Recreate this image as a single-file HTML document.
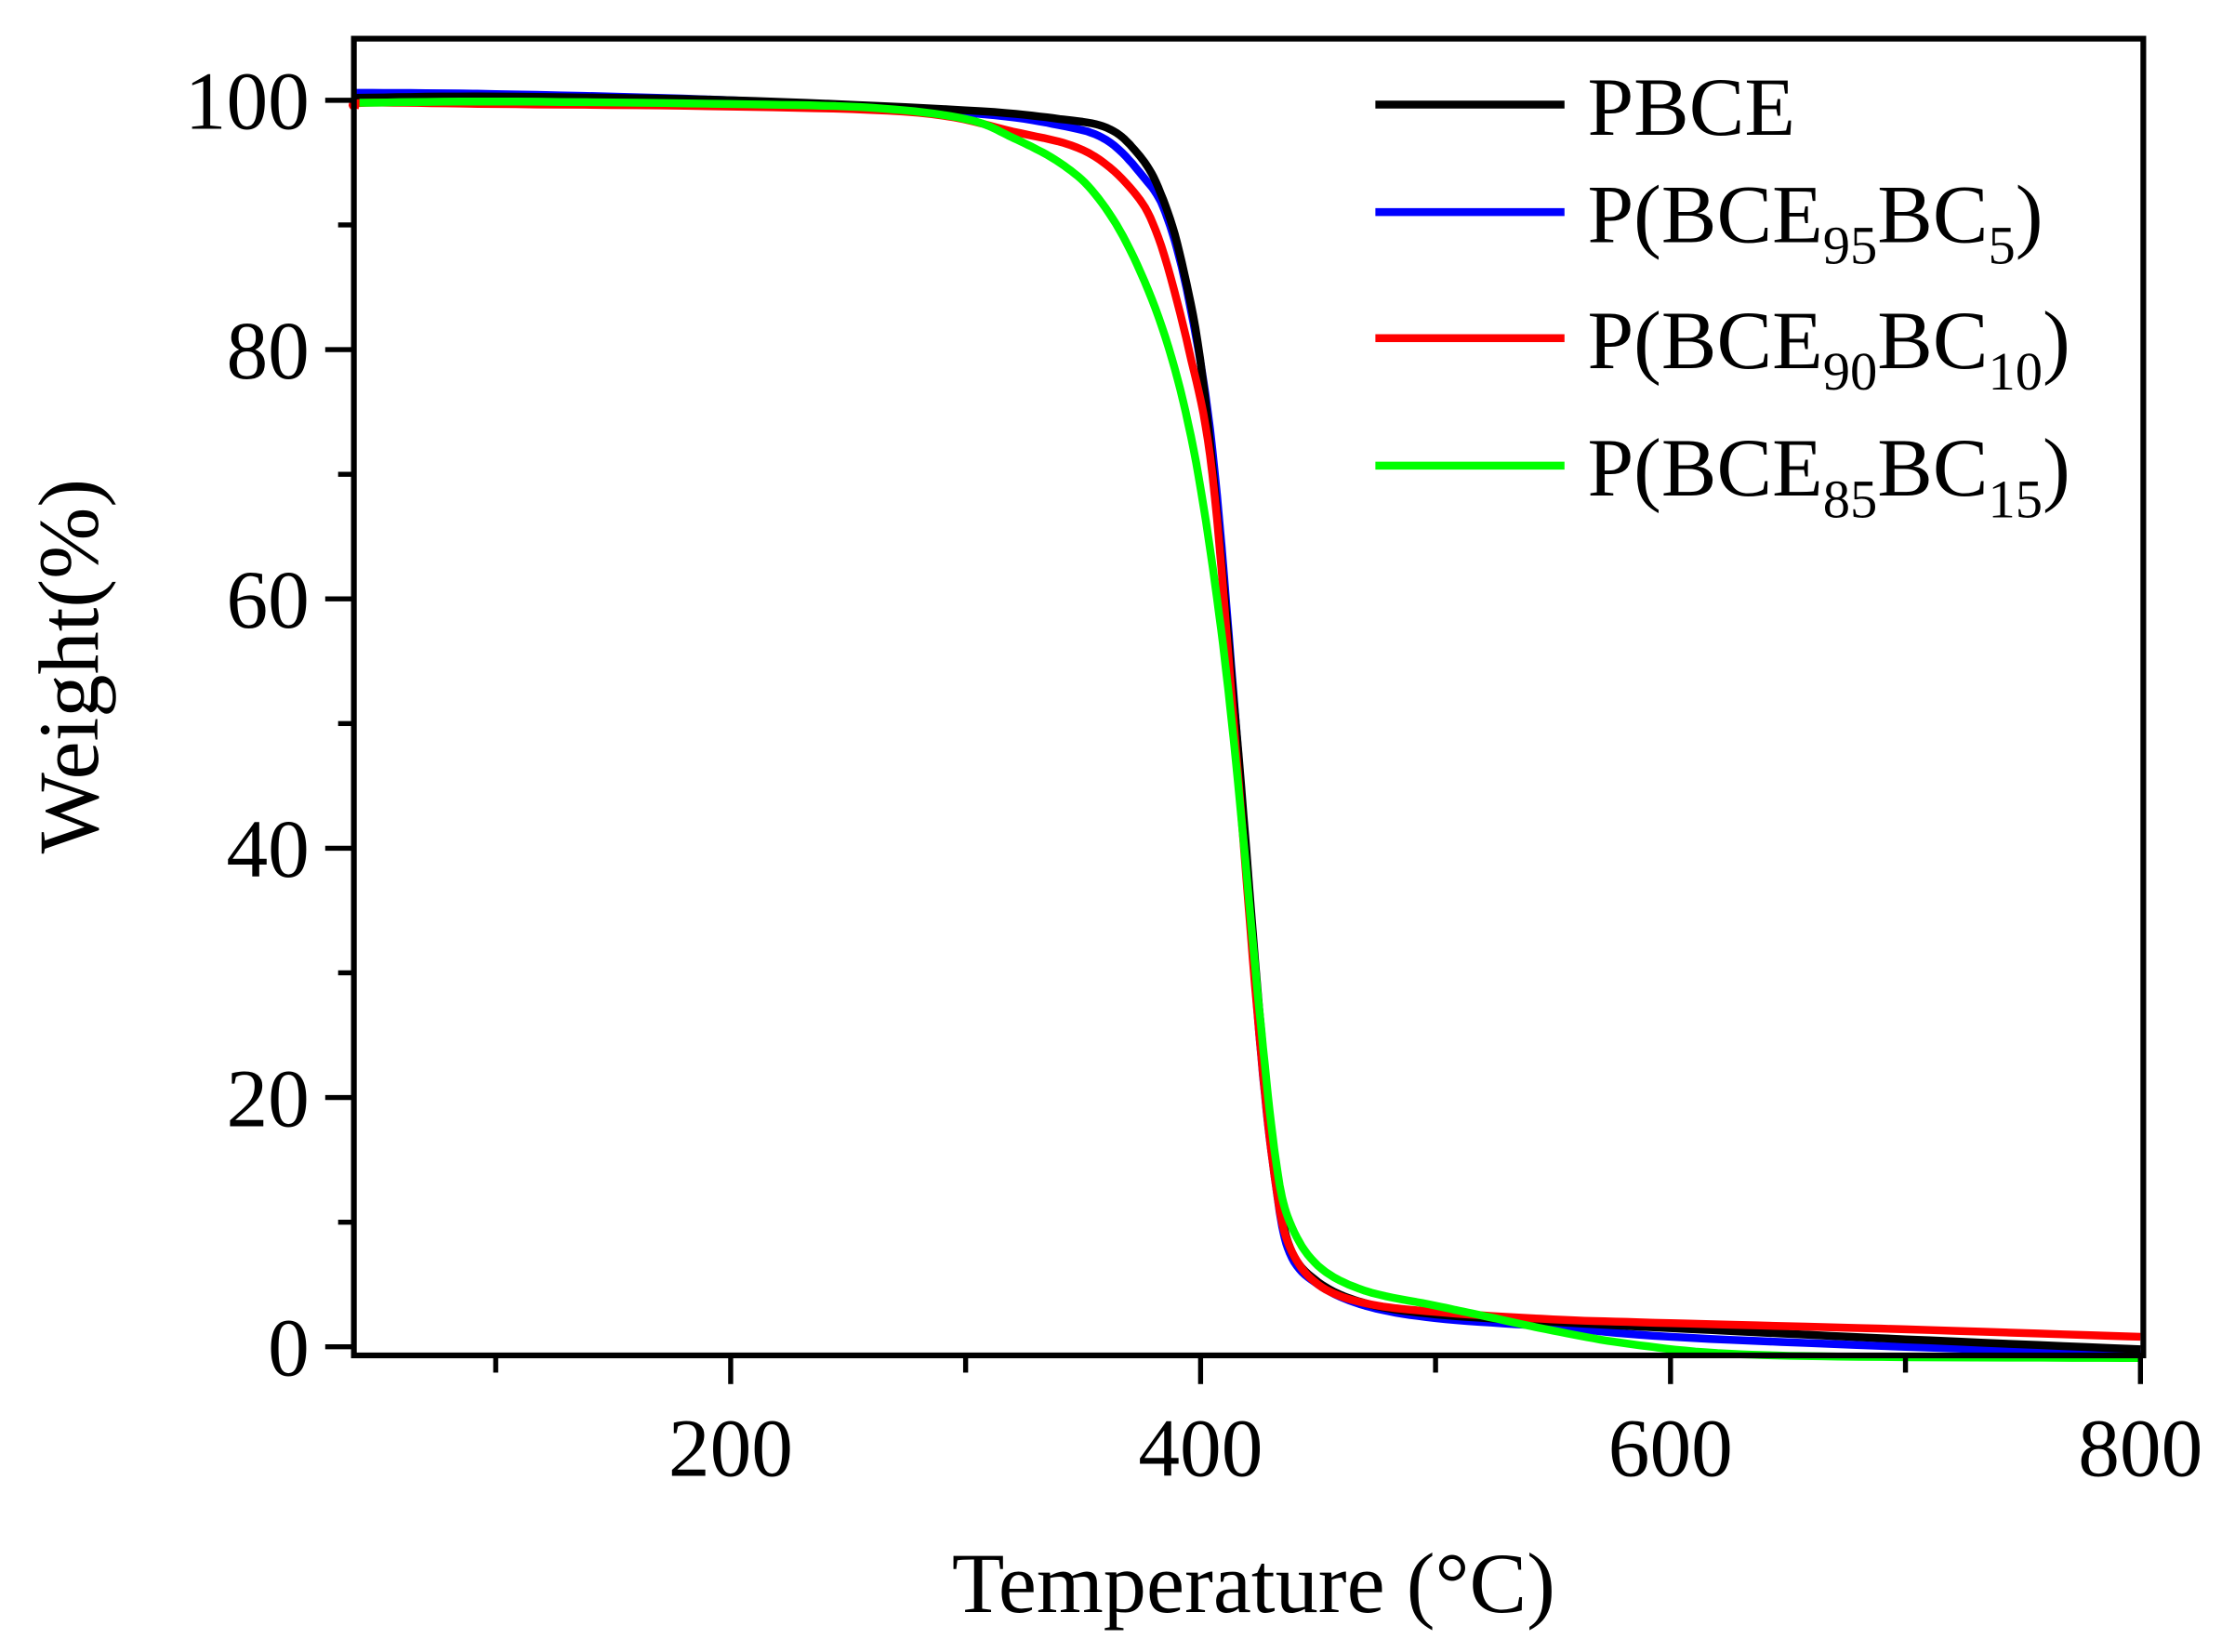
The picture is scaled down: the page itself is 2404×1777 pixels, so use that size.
<!DOCTYPE html>
<html><head><meta charset="utf-8"><style>html,body{margin:0;padding:0;background:#fff}svg{display:block}</style></head>
<body>
<svg id="s" width="2404" height="1777" viewBox="0 0 1560 1153" preserveAspectRatio="none" xmlns="http://www.w3.org/2000/svg" font-family="'Liberation Serif', serif">
<rect width="1560" height="1153" fill="#fff"/>
<g id="curves" fill="none" stroke-width="5.5" stroke-linejoin="round"></g>
<rect x="247" y="27" width="1249" height="919" fill="none" stroke="#000" stroke-width="4"/>
<g stroke="#000" stroke-width="3.5">
<line x1="510" y1="946" x2="510" y2="966"/><line x1="838" y1="946" x2="838" y2="966"/><line x1="1166" y1="946" x2="1166" y2="966"/><line x1="1494" y1="946" x2="1494" y2="966"/>
<line x1="346" y1="946" x2="346" y2="958"/><line x1="674" y1="946" x2="674" y2="958"/><line x1="1002" y1="946" x2="1002" y2="958"/><line x1="1330" y1="946" x2="1330" y2="958"/>
<line x1="227" y1="940" x2="247" y2="940"/><line x1="227" y1="766" x2="247" y2="766"/><line x1="227" y1="592" x2="247" y2="592"/><line x1="227" y1="418" x2="247" y2="418"/><line x1="227" y1="244" x2="247" y2="244"/><line x1="227" y1="70" x2="247" y2="70"/>
<line x1="236" y1="853" x2="247" y2="853"/><line x1="236" y1="679" x2="247" y2="679"/><line x1="236" y1="505" x2="247" y2="505"/><line x1="236" y1="331" x2="247" y2="331"/><line x1="236" y1="157" x2="247" y2="157"/>
</g>
<g font-size="58" text-anchor="end" fill="#000">
<text x="216" y="960">0</text><text x="216" y="786">20</text><text x="216" y="612">40</text><text x="216" y="438">60</text><text x="216" y="264">80</text><text x="216" y="90">100</text>
</g>
<g font-size="58" text-anchor="middle" fill="#000">
<text x="510" y="1030">200</text><text x="838" y="1030">400</text><text x="1166" y="1030">600</text><text x="1494" y="1030">800</text>
</g>
<text x="875" y="1125" font-size="60" text-anchor="middle">Temperature (°C)</text>
<text transform="translate(68,465) rotate(-90)" font-size="60" text-anchor="middle">Weight(%)</text>
<g stroke-width="5.5">
<line x1="960" y1="73" x2="1092" y2="73" stroke="#000"/>
<line x1="960" y1="148" x2="1092" y2="148" stroke="#00f"/>
<line x1="960" y1="236" x2="1092" y2="236" stroke="#f00"/>
<line x1="960" y1="325" x2="1092" y2="325" stroke="#0f0"/>
</g>
<g font-size="58" fill="#000">
<text x="1108" y="94">PBCE</text>
<text x="1108" y="169">P(BCE<tspan font-size="38" dy="15">95</tspan><tspan dy="-15">BC</tspan><tspan font-size="38" dy="15">5</tspan><tspan dy="-15">)</tspan></text>
<text x="1108" y="257">P(BCE<tspan font-size="38" dy="15">90</tspan><tspan dy="-15">BC</tspan><tspan font-size="38" dy="15">10</tspan><tspan dy="-15">)</tspan></text>
<text x="1108" y="346">P(BCE<tspan font-size="38" dy="15">85</tspan><tspan dy="-15">BC</tspan><tspan font-size="38" dy="15">15</tspan><tspan dy="-15">)</tspan></text>
</g>
</svg>
<script>
function X(t){return 510+(t-200)*1.64}function Y(w){return 940-8.7*w}
var series=[
["#00f",[[40,100.6],[100,100.5],[200,100],[300,99],[340,98],[360,96.8],[375,94],[385,91],[395,84],[405,72],[415,50],[425,25],[432,13],[438,7.5],[450,5],[470,3.3],[500,2.3],[550,1.6],[600,0.8],[700,0],[800,-0.6]]],
["#000",[[40,100.2],[100,100.3],[200,100],[300,99.2],[340,98.5],[360,97.8],[372,96],[382,93],[392,87],[402,76],[415,50],[425,27],[432,14],[438,8],[450,5.2],[470,3.5],[500,2.6],[550,2],[600,1.5],[700,0.6],[800,-0.2]]],
["#f00",[[40,99.4],[45,99.8],[100,99.7],[200,99.5],[280,99],[320,97.5],[350,96],[370,93],[382,89],[395,80],[405,70],[415,48],[425,25],[432,13],[438,8],[450,5],[470,3.5],[500,2.8],[550,2.2],[600,1.9],[700,1.4],[800,0.8]]],
["#0f0",[[42,99.8],[100,99.9],[200,99.7],[260,99.4],[300,98.5],[320,97],[340,95],[355,92.5],[370,88],[385,81],[397,72],[407,60],[415,47],[425,27],[432,15],[438,10],[450,6.5],[470,4.5],[500,3.3],[520,2.5],[550,1.3],[580,0.3],[620,-0.5],[680,-0.8],[800,-0.9]]]
];
var g=document.getElementById('curves');
series.forEach(function(s){var p=s[1],pts=[];
for(var i=0;i<p.length-1;i++){var p0=p[Math.max(i-1,0)],p1=p[i],p2=p[i+1],p3=p[Math.min(i+2,p.length-1)];
for(var k=0;k<10;k++){var t=k/10,t2=t*t,t3=t2*t;
var f=function(a,b,c,d){return 0.5*(2*b+(-a+c)*t+(2*a-5*b+4*c-d)*t2+(-a+3*b-3*c+d)*t3)};
pts.push(X(f(p0[0],p1[0],p2[0],p3[0])).toFixed(1)+","+Y(f(p0[1],p1[1],p2[1],p3[1])).toFixed(1));}}
var l=p[p.length-1];pts.push(X(l[0]).toFixed(1)+","+Y(l[1]).toFixed(1));
var e=document.createElementNS("http://www.w3.org/2000/svg","polyline");e.setAttribute("points",pts.join(" "));e.setAttribute("stroke",s[0]);g.appendChild(e);});
</script>
</body></html>
